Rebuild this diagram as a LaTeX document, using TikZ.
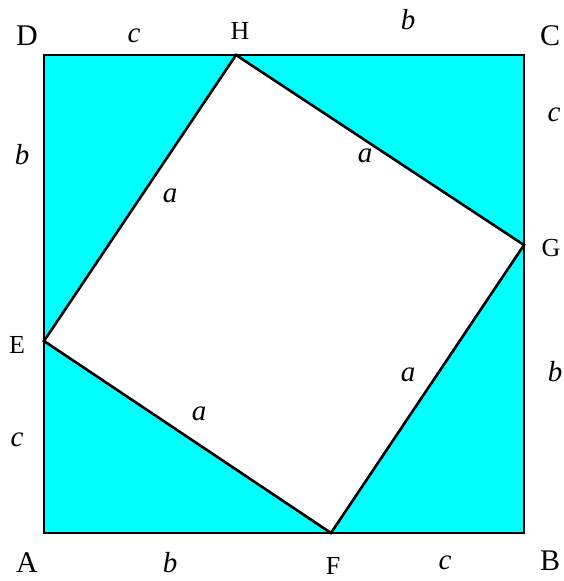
\documentclass[tikz,border=0pt]{standalone}
\usepackage{fontspec}
\setmainfont{Liberation Serif}
\usetikzlibrary{positioning}
\definecolor{aqua}{RGB}{0,255,255}

\begin{document}
\begin{tikzpicture}[
x=1pt, y=-1pt,
corner/.style={inner sep=0pt, font=\fontsize{30}{30}\selectfont},
vertex/.style={inner sep=0pt, font=\fontsize{26}{26}\selectfont},
side/.style={inner sep=0pt, font=\fontsize{29}{29}\selectfont\itshape},
outer/.style={draw=black, line width=2pt, fill=aqua},
inner/.style={draw=black, line width=2.6pt, fill=white, line join=miter}
]
\useasboundingbox (0,0) rectangle (563,581);

\coordinate (pA) at (44,533);
\coordinate (pB) at (524,533);
\coordinate (pC) at (524,55);
\coordinate (pD) at (44,55);
\coordinate (pH) at (236,55);
\coordinate (pG) at (524,245);
\coordinate (pF) at (331,533);
\coordinate (pE) at (44,341);

\draw[outer] (pA) -- (pB) -- (pC) -- (pD) -- cycle;
\draw[inner] (pE) -- (pF) -- (pG) -- (pH) -- cycle;

\node[corner] (A) at (27,563) {A};
\node[corner] (B) at (550,561) {B};
\node[corner] (C) at (550,36) {C};
\node[corner] (D) at (27,36) {D};
\node[vertex] (H) at (240,31) {H};
\node[vertex] (G) at (551,248) {G};
\node[vertex] (F) at (333,566) {F};
\node[vertex] (E) at (17,345) {E};

\node[side] (cDH) at (134,36) {c};
\node[side] (bHC) at (408,20) {b};
\node[side] (cCG) at (554,115) {c};
\node[side] (bGB) at (555,372) {b};
\node[side] (bAF) at (170,563) {b};
\node[side] (cFB) at (445,563) {c};
\node[side] (bED) at (22,155) {b};
\node[side] (cAE) at (17,440) {c};

\node[side] (aEH) at (170,196) {a};
\node[side] (aHG) at (365,156) {a};
\node[side] (aGF) at (408,375) {a};
\node[side] (aEF) at (199,414) {a};
\end{tikzpicture}
\end{document}
